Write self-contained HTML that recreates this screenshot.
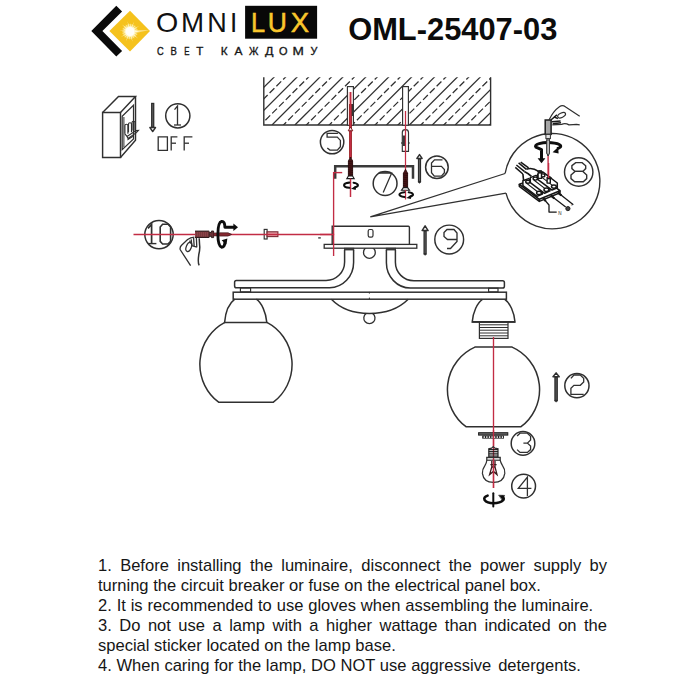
<!DOCTYPE html>
<html><head><meta charset="utf-8">
<style>
html,body{margin:0;padding:0;background:#fff;}
body{width:700px;height:700px;position:relative;overflow:hidden;font-family:"Liberation Sans",sans-serif;color:#111;}
#title{position:absolute;left:348.2px;top:11.3px;font-weight:bold;font-size:30.8px;line-height:34px;letter-spacing:0px;white-space:nowrap;color:#0a0a0a;}
#txt{position:absolute;left:98px;top:555.8px;width:509px;font-size:16.55px;line-height:20.05px;color:#161616;}
#txt div{white-space:nowrap;}
#txt .j{text-align:justify;text-align-last:justify;white-space:normal;}
svg{position:absolute;left:0;top:0;}
</style></head><body>
<div id="txt">
<div class="j">1. Before installing the luminaire, disconnect the power supply by</div>
<div id="l2">turning the circuit breaker or fuse on the electrical panel box.</div>
<div id="l3" style="word-spacing:0.27px">2. It is recommended to use gloves when assembling the luminaire.</div>
<div class="j">3. Do not use a lamp with a higher wattage than indicated on the</div>
<div id="l5">special sticker located on the lamp base.</div>
<div id="l6" style="word-spacing:0.12px">4. When caring for the lamp, DO NOT use aggressive <span style="margin-left:2.3px">detergents.</span></div>
</div>
<svg id="art" width="700" height="700" viewBox="0 0 700 700" fill="none" stroke="#303030" stroke-width="1.2">
<g id="logo" stroke="none" font-family="Liberation Sans, sans-serif"><polygon points="91.3,31 116.3,5.8 122.1,11.4 102.4,31 122.1,50.9 116.3,56.6" fill="#0a0a0a"/><polygon points="109.4,31 130,10.8 150,30.9 130,51.6" fill="#f5c21d"/><circle cx="130.0" cy="31.5" r="7.6" fill="#fde98c" opacity="0.55"/><path d="M134.00,31.38 L140.57,32.35 L133.93,32.26 Z M133.84,32.62 L137.94,34.80 L133.50,33.43 Z M133.31,33.75 L138.05,38.40 L132.73,34.42 Z M132.45,34.66 L134.48,38.84 L131.70,35.12 Z M131.35,35.27 L132.46,41.81 L130.50,35.47 Z M130.12,35.50 L129.31,40.07 L129.24,35.43 Z M128.88,35.34 L125.93,41.29 L128.07,35.00 Z M127.75,34.81 L124.41,38.03 L127.08,34.23 Z M126.84,33.95 L120.95,37.03 L126.38,33.20 Z M126.23,32.85 L121.63,33.50 L126.03,32.00 Z M126.00,31.62 L119.43,30.65 L126.07,30.74 Z M126.16,30.38 L122.06,28.20 L126.50,29.57 Z M126.69,29.25 L121.95,24.60 L127.27,28.58 Z M127.55,28.34 L125.52,24.16 L128.30,27.88 Z M128.65,27.73 L127.54,21.19 L129.50,27.53 Z M129.88,27.50 L130.69,22.93 L130.76,27.57 Z M131.12,27.66 L134.07,21.71 L131.93,28.00 Z M132.25,28.19 L135.59,24.97 L132.92,28.77 Z M133.16,29.05 L139.05,25.97 L133.62,29.80 Z M133.77,30.15 L138.37,29.50 L133.97,31.00 Z" fill="#fffbe6"/><circle cx="130.0" cy="31.5" r="5.6" fill="#fff6c8" opacity="0.8"/><circle cx="130.0" cy="31.5" r="4.5" fill="#fffef8"/><polygon points="134,30.6 149.6,30.6 134,32.2" fill="#fff8d6"/><text transform="translate(156.11,31.92) scale(0.2861,0.2775)" font-size="100" fill="#111">O</text><text transform="translate(180.88,32.00) scale(0.2770,0.2783)" font-size="100" fill="#111">M</text><text transform="translate(207.13,32.00) scale(0.2708,0.2783)" font-size="100" fill="#111">N</text><text transform="translate(230.06,32.00) scale(0.2600,0.2783)" font-size="100" fill="#111">I</text><rect x="245.1" y="5.8" width="72" height="32.9" fill="#080808"/><text transform="translate(251.07,32.00) scale(0.2539,0.2783)" font-size="100" fill="#f8c62c" stroke="#f8c62c" stroke-width="1.88">L</text><text transform="translate(267.71,31.92) scale(0.2649,0.2771)" font-size="100" fill="#f8c62c" stroke="#f8c62c" stroke-width="1.84">U</text><text transform="translate(290.85,32.00) scale(0.2746,0.2783)" font-size="100" fill="#f8c62c" stroke="#f8c62c" stroke-width="1.81">X</text><text transform="translate(156.89,55.30) scale(0.0929,0.1028)" font-size="100" fill="#161616" stroke="#161616" stroke-width="3.27">С</text><text transform="translate(170.49,55.30) scale(0.0953,0.1029)" font-size="100" fill="#161616" stroke="#161616" stroke-width="3.23">В</text><text transform="translate(184.22,55.30) scale(0.0789,0.1029)" font-size="100" fill="#161616" stroke="#161616" stroke-width="3.52">Е</text><text transform="translate(196.22,55.30) scale(0.1158,0.1022)" font-size="100" fill="#161616" stroke="#161616" stroke-width="2.94">Т</text><text transform="translate(220.71,55.30) scale(0.1180,0.1029)" font-size="100" fill="#161616" stroke="#161616" stroke-width="2.90">К</text><text transform="translate(234.45,55.25) scale(0.1194,0.1022)" font-size="100" fill="#161616" stroke="#161616" stroke-width="2.89">А</text><text transform="translate(249.05,55.30) scale(0.1022,0.1029)" font-size="100" fill="#161616" stroke="#161616" stroke-width="3.12">Ж</text><text transform="translate(264.99,55.35) scale(0.1252,0.1036)" font-size="100" fill="#161616" stroke="#161616" stroke-width="2.80">Д</text><text transform="translate(278.96,55.30) scale(0.1095,0.1028)" font-size="100" fill="#161616" stroke="#161616" stroke-width="3.01">О</text><text transform="translate(292.56,55.30) scale(0.1363,0.1029)" font-size="100" fill="#161616" stroke="#161616" stroke-width="2.68">М</text><text transform="translate(310.58,55.20) scale(0.1081,0.1014)" font-size="100" fill="#161616" stroke="#161616" stroke-width="3.05">У</text></g><text x="348.2" y="40.1" font-family="Liberation Sans, sans-serif" font-weight="bold" font-size="30.85" fill="#0c0c0c" stroke="none" style="font-kerning:none">OML-25407-03</text><g id="s1"><polygon points="102.6,112.5 120.5,112.5 120.5,157.4 102.6,157.4" stroke-width="1.45" /><polyline points="102.6,112.5 118.5,96.5 135.5,96.5 120.5,112.5" stroke-width="1.45" /><polyline points="135.5,96.5 135.5,140.2 120.5,157.4" stroke-width="1.45" /><polygon points="122.2,116.2 133.5,105.2 133.5,139.0 122.2,149.6" stroke-width="1.20" /><polyline points="123.9,117.0 123.9,147.4" stroke-width="1.00" /><path d="M124.9,133.8 L124.9,125.6 Q124.9,124.2 126.4,124.2 Q127.9,124.2 127.9,125.6 L127.9,133.8" stroke-width="1.15"/><path d="M128.5,132.2 L128.5,124.1 Q128.5,122.7 130.0,122.7 Q131.5,122.7 131.5,124.1 L131.5,132.2" stroke-width="1.15"/><path d="M132.0,130.6 L132.0,122.6 Q132.0,121.2 133.5,121.2 Q135.0,121.2 135.0,122.6 L135.0,130.6" stroke-width="1.15"/><path d="M124.9,133.8 L127,136.4 L136,130.6 L138.4,130.4 L136.4,132.6 L128,138.4 L127,136.4 M128,138.4 L128,139.6 L133,136.4" stroke-width="1.1"/><line x1="152.7" y1="102.8" x2="152.7" y2="127.6" stroke-width="3.30" stroke="#2c2c2c"/><line x1="152.7" y1="104.0" x2="152.7" y2="126.6" stroke-width="0.80" stroke="#6a6a6a"/><polygon points="152.7,131.5 155.5,127.6 149.9,127.6" stroke-width="1.50" fill="#fff" stroke-linejoin="round"/><circle cx="177.8" cy="115.8" r="12.1" stroke-width="1.50"/><polyline points="174.5,109.6 177.5,106.0 177.5,125.0" stroke-width="1.30" /><line x1="174.0" y1="125.0" x2="181.0" y2="125.0" stroke-width="1.30" /><polygon points="158.2,136.8 167.4,136.8 167.4,150.3 158.2,150.3" stroke-width="1.30" /><polyline points="177.4,136.8 171.2,136.8 171.2,150.6" stroke-width="1.30" /><line x1="171.2" y1="143.2" x2="176.0" y2="143.2" stroke-width="1.30" /><polyline points="192.4,136.8 184.2,136.8 184.2,150.6" stroke-width="1.30" /><line x1="184.2" y1="143.2" x2="189.0" y2="143.2" stroke-width="1.30" /></g><g id="ceil"><clipPath id="cc"><rect x="263.8" y="77.2" width="226.8" height="47.8"/></clipPath><g clip-path="url(#cc)" stroke-width="1.25"><line x1="203.3" y1="125.0" x2="263.3" y2="65.0"/><line x1="212.8" y1="127.0" x2="274.8" y2="65.0" stroke-dasharray="6.8 2.8"/><line x1="226.2" y1="125.0" x2="286.2" y2="65.0"/><line x1="235.7" y1="127.0" x2="297.6" y2="65.0" stroke-dasharray="6.8 2.8"/><line x1="249.1" y1="125.0" x2="309.1" y2="65.0"/><line x1="258.6" y1="127.0" x2="320.6" y2="65.0" stroke-dasharray="6.8 2.8"/><line x1="272.0" y1="125.0" x2="332.0" y2="65.0"/><line x1="281.4" y1="127.0" x2="343.4" y2="65.0" stroke-dasharray="6.8 2.8"/><line x1="294.9" y1="125.0" x2="354.9" y2="65.0"/><line x1="304.3" y1="127.0" x2="366.3" y2="65.0" stroke-dasharray="6.8 2.8"/><line x1="317.8" y1="125.0" x2="377.8" y2="65.0"/><line x1="327.2" y1="127.0" x2="389.2" y2="65.0" stroke-dasharray="6.8 2.8"/><line x1="340.7" y1="125.0" x2="400.7" y2="65.0"/><line x1="350.1" y1="127.0" x2="412.1" y2="65.0" stroke-dasharray="6.8 2.8"/><line x1="363.6" y1="125.0" x2="423.6" y2="65.0"/><line x1="373.0" y1="127.0" x2="435.0" y2="65.0" stroke-dasharray="6.8 2.8"/><line x1="386.5" y1="125.0" x2="446.5" y2="65.0"/><line x1="395.9" y1="127.0" x2="457.9" y2="65.0" stroke-dasharray="6.8 2.8"/><line x1="409.4" y1="125.0" x2="469.4" y2="65.0"/><line x1="418.8" y1="127.0" x2="480.8" y2="65.0" stroke-dasharray="6.8 2.8"/><line x1="432.3" y1="125.0" x2="492.3" y2="65.0"/><line x1="441.7" y1="127.0" x2="503.7" y2="65.0" stroke-dasharray="6.8 2.8"/><line x1="455.2" y1="125.0" x2="515.2" y2="65.0"/><line x1="464.6" y1="127.0" x2="526.6" y2="65.0" stroke-dasharray="6.8 2.8"/><line x1="478.1" y1="125.0" x2="538.1" y2="65.0"/><line x1="487.5" y1="127.0" x2="549.5" y2="65.0" stroke-dasharray="6.8 2.8"/></g><polyline points="263.8,77.2 263.8,125.0 490.6,125.0 490.6,77.2" stroke-width="1.40" /><rect x="347.4" y="86.6" width="6" height="38.6" fill="#fff" stroke-width="1.15"/><rect x="402.6" y="86.6" width="5.8" height="38.6" fill="#fff" stroke-width="1.15"/></g><g id="screws"><path d="M335.2,178.8 L335.2,166.2 L413,166.2 L413,178.8" stroke="#3a3a3a" stroke-width="2.5" stroke-linejoin="miter"/><rect x="348.7" y="92" width="3.4" height="33" fill="#eaa6a6" stroke="none" opacity="0.85"/><line x1="350.5" y1="92.0" x2="350.5" y2="197.0" stroke-width="1.25" stroke="#c22c44"/><line x1="349.5" y1="104.0" x2="349.5" y2="158.0" stroke-width="0.90" stroke="#9a1c20"/><line x1="351.5" y1="104.0" x2="351.5" y2="158.0" stroke-width="0.90" stroke="#9a1c20"/><rect x="351.8" y="104" width="1.7" height="12" fill="#333" stroke="none"/><polygon points="350.5,127.0 352.8,130.8 348.2,130.8" stroke-width="1.00" stroke="#7a1a1e" fill="#f8e2e2"/><path d="M350.5,157.0 L352.6,161.0 L352.6,176.2 L348.4,176.2 L348.4,161.0 Z" fill="#4a1517" stroke="#2a0c0d" stroke-width="0.9"/><line x1="348.0" y1="161.9" x2="353.0" y2="161.0" stroke-width="0.80" stroke="#2a0c0d"/><line x1="348.0" y1="163.8" x2="353.0" y2="162.9" stroke-width="0.80" stroke="#2a0c0d"/><line x1="348.0" y1="165.7" x2="353.0" y2="164.8" stroke-width="0.80" stroke="#2a0c0d"/><line x1="348.0" y1="167.6" x2="353.0" y2="166.7" stroke-width="0.80" stroke="#2a0c0d"/><line x1="348.0" y1="169.5" x2="353.0" y2="168.6" stroke-width="0.80" stroke="#2a0c0d"/><line x1="348.0" y1="171.4" x2="353.0" y2="170.5" stroke-width="0.80" stroke="#2a0c0d"/><line x1="348.0" y1="173.3" x2="353.0" y2="172.4" stroke-width="0.80" stroke="#2a0c0d"/><line x1="348.0" y1="175.2" x2="353.0" y2="174.3" stroke-width="0.80" stroke="#2a0c0d"/><path d="M348.4,176.0 L352.6,176.0 L354.2,178.6 L346.8,178.6 Z" fill="#fff" stroke="#1a1a1a" stroke-width="1.1"/><line x1="350.5" y1="178.6" x2="350.5" y2="197.0" stroke-width="1.25" stroke="#c22c44"/><g stroke="#0d0d0d" fill="none" stroke-linecap="round"><path d="M349.21,182.59 A6.90,2.70 0 0 0 349.21,187.81" stroke-width="2.10"/><path d="M353.58,182.70 A6.90,2.70 0 0 1 354.66,187.49" stroke-width="2.10"/><polygon points="351.06,188.79 356.46,185.59 355.66,189.89" fill="#0d0d0d" stroke="none"/></g><path d="M402.3,151.4 L402.3,132.5 Q402.3,129.6 405.4,129.6 Q408.5,129.6 408.5,132.5 L408.5,151.4 Z" fill="#fff" stroke-width="1.15"/><rect x="402.8" y="135.5" width="2.3" height="10.5" fill="#3a3a3a" stroke="none"/><line x1="401.2" y1="143.0" x2="402.3" y2="143.0" stroke-width="1.50" /><line x1="408.5" y1="143.0" x2="409.6" y2="143.0" stroke-width="1.50" /><line x1="405.5" y1="111.0" x2="405.5" y2="170.0" stroke-width="1.25" stroke="#c22c44"/><path d="M405.5,169.3 L407.6,173.3 L407.6,187.8 L403.4,187.8 L403.4,173.3 Z" fill="#4a1517" stroke="#2a0c0d" stroke-width="0.9"/><line x1="403.0" y1="174.2" x2="408.0" y2="173.3" stroke-width="0.80" stroke="#2a0c0d"/><line x1="403.0" y1="176.1" x2="408.0" y2="175.2" stroke-width="0.80" stroke="#2a0c0d"/><line x1="403.0" y1="178.0" x2="408.0" y2="177.1" stroke-width="0.80" stroke="#2a0c0d"/><line x1="403.0" y1="179.9" x2="408.0" y2="179.0" stroke-width="0.80" stroke="#2a0c0d"/><line x1="403.0" y1="181.8" x2="408.0" y2="180.9" stroke-width="0.80" stroke="#2a0c0d"/><line x1="403.0" y1="183.7" x2="408.0" y2="182.8" stroke-width="0.80" stroke="#2a0c0d"/><line x1="403.0" y1="185.6" x2="408.0" y2="184.7" stroke-width="0.80" stroke="#2a0c0d"/><line x1="403.0" y1="187.5" x2="408.0" y2="186.6" stroke-width="0.80" stroke="#2a0c0d"/><path d="M403.4,187.6 L407.6,187.6 L409.5,190.2 L401.5,190.2 Z" fill="#fff" stroke="#1a1a1a" stroke-width="1.1"/><line x1="405.5" y1="190.0" x2="405.5" y2="199.5" stroke-width="1.25" stroke="#c22c44"/><g stroke="#0d0d0d" fill="none" stroke-linecap="round"><path d="M404.44,192.19 A6.80,2.50 0 0 0 404.44,197.01" stroke-width="2.10"/><path d="M408.75,192.28 A6.80,2.50 0 0 1 409.80,196.72" stroke-width="2.10"/><polygon points="406.20,198.02 411.60,194.82 410.80,199.12" fill="#0d0d0d" stroke="none"/></g><line x1="333.5" y1="172.6" x2="342.2" y2="172.6" stroke-width="1.40" stroke="#c22c44"/><line x1="419.5" y1="158.4" x2="419.5" y2="182.2" stroke-width="3.20" stroke="#2c2c2c"/><line x1="419.5" y1="159.4" x2="419.5" y2="181.0" stroke-width="0.80" stroke="#6a6a6a"/><polygon points="419.5,183.4 421.1,182.0 417.9,182.0" stroke-width="0.30" fill="#2c2c2c"/><polygon points="419.5,154.6 422.1,158.4 416.9,158.4" stroke-width="1.50" fill="#fff" stroke-linejoin="round"/><circle cx="332.1" cy="142.1" r="11.7" stroke-width="1.50"/><polyline points="337.9,133.4 327.1,133.4 327.1,137.1 337.3,137.1 340.4,140.4 340.4,146.7 337.3,150.1 329.9,150.1 327.3,147.9" stroke-width="1.30" /><circle cx="436.9" cy="167.3" r="11.3" stroke-width="1.50"/><polyline points="442.5,159.9 434.5,159.9 431.5,163.1 431.5,172.7 434.3,176.2 441.4,176.2 444.4,172.7 444.4,169.5 441.4,166.3 431.5,166.3" stroke-width="1.30" /><circle cx="385.1" cy="183.5" r="11.9" stroke-width="1.50"/><polyline points="378.4,173.2 391.6,173.2 383.2,192.4" stroke-width="1.30" /><line x1="379.5" y1="172.2" x2="390.5" y2="172.2" stroke-width="1.20" /></g><g id="s8"><path d="M505.1,173.5 A47.7,47.7 0 1 1 506.0,193.1" stroke-width="1.4"/><path d="M505.1,173.5 L370.3,216.9 L506.0,193.1" stroke-width="1.3" stroke-linejoin="miter"/><circle cx="578.7" cy="172.0" r="14.2" stroke-width="1.45"/><polygon points="575.7,162.6 582.1,162.6 585.7,165.7 585.7,168.6 582.9,171.4 575.0,171.4 571.9,168.6 571.9,165.7" stroke-width="1.40" /><polygon points="575.0,171.4 582.9,171.4 586.7,175.0 586.7,178.6 583.3,181.7 574.7,181.7 571.0,178.6 571.0,175.0" stroke-width="1.40" /><rect x="545.2" y="120" width="5.9" height="14.4" fill="#a6a6a6" stroke="#1d1d1d" stroke-width="1.5"/><rect x="545.9" y="134.4" width="4.5" height="4.2" fill="#e4e4e4" stroke-width="1.0"/><path d="M546.8,138.6 L546.8,153 L548.1,156 L549.4,153 L549.4,138.6 Z" fill="#cfcfcf" stroke-width="0.95"/><line x1="548.1" y1="156.0" x2="548.1" y2="178.0" stroke-width="1.35" stroke="#c22c44"/><path d="M549.0,120.0 Q553.2,111.1 559.7,106.5 Q562.5,104.6 565.7,107.0 L579.7,116.2" stroke-width="1.2"/><path d="M552.3,124.9 L561.6,124.3 Q565.3,122.7 569.0,124.9 Q573.6,124.3 576.4,124.3 L579.7,124.9" stroke-width="1.35"/><ellipse cx="561.6" cy="115.2" rx="4.2" ry="2.2" transform="rotate(-26 561.6 115.2)" stroke-width="1.2"/><path d="M550.9,120.0 L556.9,114.9 M551.8,121.8 L560.6,120.9 M552.7,123.7 L561.1,122.7 M553.7,116.7 L557.9,118.6" stroke-width="1.5" stroke="#1a1a1a"/><g stroke="#0d0d0d" fill="none" stroke-linecap="butt"><path d="M557.01,148.75 A12.6,3.6 0 1 0 535.93,147.13 L541.5,149.6 L541.5,159" stroke-width="3" stroke-linejoin="round"/><polygon points="541.5,163.3 537.6,158.3 545.4,158.3" fill="#0d0d0d" stroke="none"/><polygon points="552.6,152.2 558.2,147.0 558.6,153.4" fill="#0d0d0d" stroke="none"/></g><path d="M546.8,140 L546.8,153 L548.1,156 L549.4,153 L549.4,140 Z" fill="#cfcfcf" stroke-width="0.95"/><g stroke="#161616" stroke-linejoin="round"><polygon points="519.3,184.3 539.3,199.3 560.0,190.7 541.4,177.1" stroke-width="1.60" fill="#fff"/><polyline points="519.3,184.3 519.3,186.3 539.3,201.4 539.3,199.3" stroke-width="1.50" /><polyline points="539.3,201.4 560.0,192.7 560.0,190.7" stroke-width="1.50" /><polygon points="522.9,180.7 522.9,185.7 537.1,196.4 542.4,194.0 542.4,189.3 528.6,178.6" stroke-width="1.50" fill="#fff"/><ellipse cx="527.9" cy="181.7" rx="2.2" ry="1.5" fill="#fff" stroke-width="1.4"/><ellipse cx="539.0" cy="192.9" rx="2.4" ry="1.7" fill="#fff" stroke-width="1.5"/><line x1="526.4" y1="183.1" x2="537.6" y2="191.7" stroke-width="1.10" /><polygon points="530.3,177.6 530.3,182.6 544.6,193.3 549.9,190.9 549.9,186.1 536.0,175.4" stroke-width="1.50" fill="#fff"/><ellipse cx="535.3" cy="178.6" rx="2.2" ry="1.5" fill="#fff" stroke-width="1.4"/><ellipse cx="546.4" cy="189.7" rx="2.4" ry="1.7" fill="#fff" stroke-width="1.5"/><line x1="533.9" y1="180.0" x2="545.0" y2="188.6" stroke-width="1.10" /><polygon points="537.7,174.4 537.7,179.4 552.0,190.1 557.3,187.7 557.3,183.0 543.4,172.3" stroke-width="1.50" fill="#fff"/><ellipse cx="542.7" cy="175.4" rx="2.2" ry="1.5" fill="#fff" stroke-width="1.4"/><ellipse cx="553.9" cy="186.6" rx="2.4" ry="1.7" fill="#fff" stroke-width="1.5"/><line x1="541.3" y1="176.9" x2="552.4" y2="185.4" stroke-width="1.10" /><rect x="538.1" y="172.9" width="3.4" height="5.5" fill="#fff" stroke-width="1.4"/><ellipse cx="540.1" cy="171.7" rx="2.4" ry="1.1" fill="#222" stroke-width="1"/><rect x="547.1" y="178.6" width="3.2" height="4.5" fill="#fff" stroke-width="1.4"/><ellipse cx="549.0" cy="177.7" rx="2.2" ry="1.0" fill="#222" stroke-width="1"/><path d="M518.6,162.9 L526.4,169.3 M516.4,165.0 L524.3,171.4 M515.3,167.4 L522.9,174.0 M520.7,162.1 L528.6,167.9" stroke-width="1.5"/><path d="M526.4,169.3 Q532.1,167.1 538.6,171.4 M524.3,171.4 Q527.9,172.9 531.4,176.4 M522.9,174.0 L523.6,180.7" stroke-width="1.6"/><path d="M543.3,198.3 L549.0,205.0 L549.0,212.1 L556.7,212.1" stroke-width="1.3"/><path d="M550.7,195.4 L565.7,207.1" stroke-width="1.3"/><path d="M557.9,192.6 L573.3,204.7" stroke-width="1.3"/><path d="M543.3,198.3 L545.7,201.1 M550.7,195.4 L554.3,198.3 M557.9,192.6 L561.4,195.4" stroke-width="2.2"/><circle cx="567.9" cy="208.6" r="2.1" fill="#444" stroke-width="0.9"/></g><line x1="548.6" y1="163.0" x2="548.6" y2="178.0" stroke-width="1.35" stroke="#c22c44"/><text x="558.3" y="214.8" font-family="Liberation Sans, sans-serif" font-size="4.6" fill="#222" stroke="none">N</text><text x="571.5" y="205.5" font-family="Liberation Sans, sans-serif" font-size="3.6" fill="#222" stroke="none" transform="rotate(35 572 204)">L</text></g><g id="s10"><circle cx="159.0" cy="234.6" r="14.2" stroke-width="1.50"/><polyline points="148.0,228.4 151.6,224.2 151.6,243.4" stroke-width="1.70" /><line x1="148.0" y1="243.6" x2="156.4" y2="243.6" stroke-width="1.40" /><polygon points="162.6,224.3 168.0,224.3 170.6,227.0 170.6,241.4 168.0,244.0 162.6,244.0 160.2,241.4 160.2,227.0" stroke-width="1.60" /><rect x="264.2" y="229.4" width="2.9" height="9.6" fill="#fff" stroke-width="1.15"/><rect x="267.1" y="231.8" width="10.8" height="4.8" fill="#e59aa2" stroke="#7a2a34" stroke-width="1.1"/><path d="M190.6,265.6 L180.3,249.8 Q179.4,247.2 181.8,245 L187.6,239.6 Q190.5,237.4 194.4,237.2" stroke-width="1.3"/><path d="M199.2,265.4 Q197.6,263 198.8,254.5 Q200.2,249 199.6,245 L199.2,238.2" stroke-width="1.5"/><ellipse cx="188.8" cy="247" rx="2.5" ry="4.7" transform="rotate(22 188.8 247)" stroke-width="1.25"/><path d="M191.2,239.4 L191.8,245.6 M193.6,238 L194.2,246.6 M196.4,238 L196.8,247.4 M191.6,245.6 L197,247.2 M189.6,240.6 L190.6,243.4" stroke-width="1.3"/><line x1="133.5" y1="234.5" x2="334.0" y2="234.5" stroke-width="1.40" stroke="#c22c44"/><rect x="195" y="231.2" width="14.2" height="6.2" fill="#93474c" stroke="none"/><line x1="195.0" y1="231.2" x2="209.2" y2="231.2" stroke-width="1.20" stroke="#2a1a1a"/><line x1="195.0" y1="237.4" x2="209.2" y2="237.4" stroke-width="1.20" stroke="#2a1a1a"/><line x1="196.3" y1="231.2" x2="196.3" y2="237.4" stroke-width="0.60" stroke="#5a2a2e"/><line x1="198.3" y1="231.2" x2="198.3" y2="237.4" stroke-width="0.60" stroke="#5a2a2e"/><line x1="200.3" y1="231.2" x2="200.3" y2="237.4" stroke-width="0.60" stroke="#5a2a2e"/><line x1="202.3" y1="231.2" x2="202.3" y2="237.4" stroke-width="0.60" stroke="#5a2a2e"/><line x1="204.3" y1="231.2" x2="204.3" y2="237.4" stroke-width="0.60" stroke="#5a2a2e"/><line x1="206.3" y1="231.2" x2="206.3" y2="237.4" stroke-width="0.60" stroke="#5a2a2e"/><line x1="208.3" y1="231.2" x2="208.3" y2="237.4" stroke-width="0.60" stroke="#5a2a2e"/><path d="M209.2,232 L211.4,232.8 L211.4,231 L213.6,231 L213.6,237.6 L211.4,237.6 L211.4,236 L209.2,236.8 Z" fill="#6a3034" stroke="#2a1a1a" stroke-width="0.9"/><path d="M213.6,232.9 L228,232.9 L231.5,234.4 L228,235.9 L213.6,235.9 Z" fill="#862830" stroke="#4a1a1e" stroke-width="0.6"/><g stroke="#0d0d0d" fill="none" stroke-linejoin="round"><path d="M224.9,240.4 Q225.2,247.4 221.6,247.2 Q217.9,245.8 217.9,234.2 Q217.9,222.4 221.6,221.4 Q224.9,221 224.9,227.3 L234.5,227.3" stroke-width="2.9"/><polygon points="238,227.3 233.4,223.6 233.4,231" fill="#0d0d0d" stroke="none"/><polygon points="227.4,238.6 221.6,240.2 226.4,244.6" fill="#0d0d0d" stroke="none"/></g><path d="M219.5,232.9 L228,232.9 L231.5,234.4 L228,235.9 L219.5,235.9 Z" fill="#862830" stroke="#4a1a1e" stroke-width="0.6"/></g><g id="fix"><circle cx="369.4" cy="252.4" r="5.9" stroke-width="1.30"/><path d="M332.2,244.2 L332.2,226.2 L408.4,226.2 Q409.4,226.2 409.4,227.4 L409.4,244.2" fill="#fff" stroke-width="1.4"/><rect x="324.2" y="244.4" width="92.6" height="3.8" fill="#fff" stroke-width="1.3"/><rect x="368.2" y="229.5" width="4.8" height="7.6" rx="1.6" stroke-width="1.2"/><line x1="318.2" y1="237.9" x2="320.8" y2="237.9" stroke-width="1.30" /><rect x="344.4" y="248.2" width="9.4" height="1.8" fill="#444" stroke-width="0.8"/><rect x="386.2" y="248.2" width="9.4" height="1.8" fill="#444" stroke-width="0.8"/><path d="M344.6,250 L344.6,262 A18.5,18.5 0 0 1 326.1,280.5 L236.4,280.5 Q234.6,280.5 234.6,282.3 L234.6,285.9 Q234.6,287.7 236.4,287.7 L329.6,287.7 A24,25.2 0 0 0 353.6,262.5 L353.6,250" stroke-width="1.50"/><path d="M395.4,250 L395.4,262.3 A18.5,18.5 0 0 0 413.9,280.8 L502.6,280.8 Q504.4,280.8 504.4,282.6 L504.4,286.2 Q504.4,288 502.6,288 L410.4,288 A24,25.2 0 0 1 386.4,262.8 L386.4,250" stroke-width="1.50"/><rect x="233.2" y="292.2" width="273.2" height="7.0" stroke-width="1.50"/><line x1="369.4" y1="291.9" x2="369.4" y2="293.6" stroke-width="1.00" /><line x1="369.4" y1="297.6" x2="369.4" y2="299.2" stroke-width="1.00" /><rect x="240.4" y="288" width="10.2" height="3.9" stroke-width="1.15"/><rect x="488.6" y="288.2" width="9.4" height="3.7" stroke-width="1.15"/><path d="M331.4,299.2 Q345,313.4 369.4,313.4 Q394,313.4 408.2,299.2" stroke-width="1.50"/><path d="M366.2,313.4 A5.6,5.6 0 1 0 372.6,313.4" stroke-width="1.3"/><path d="M234.8,299.2 C229.6,303 225.5,312 224.6,322.4 L266.8,322.4 C265.9,312 261.6,303 256.4,299.2" stroke-width="1.50"/><path d="M224.9,322.4 A46.1,47.1 0 0 0 218.6,402.2 L273.4,402.2 A46.1,47.1 0 0 0 266.9,322.4" stroke-width="1.50"/><path d="M482.4,299.4 C477.2,303 473.1,312 472.2,322 L515,322 C514.1,312 510,303 504.8,299.4" stroke-width="1.50"/><line x1="472.2" y1="321.9" x2="515.0" y2="321.9" stroke-width="1.90" /><rect x="479.4" y="322" width="28.6" height="16.4" stroke-width="1.2"/><line x1="479.4" y1="324.8" x2="508.0" y2="324.8" stroke-width="1.00" /><line x1="479.4" y1="327.5" x2="508.0" y2="327.5" stroke-width="1.00" /><line x1="479.4" y1="330.2" x2="508.0" y2="330.2" stroke-width="1.00" /><line x1="479.4" y1="333.0" x2="508.0" y2="333.0" stroke-width="1.00" /><line x1="479.4" y1="335.8" x2="508.0" y2="335.8" stroke-width="1.00" /><path d="M474.9,347.1 A46.2,46.4 0 0 0 466,426.7 L521,426.7 A46.2,46.4 0 0 0 512.1,347.1 Z" stroke-width="1.50"/><line x1="493.5" y1="337.0" x2="493.5" y2="488.0" stroke-width="1.35" stroke="#c22c44"/><line x1="425.1" y1="230.6" x2="425.1" y2="254.2" stroke-width="3.30" stroke="#2c2c2c"/><line x1="425.1" y1="231.6" x2="425.1" y2="253.0" stroke-width="0.80" stroke="#6a6a6a"/><polygon points="425.1,255.4 426.8,254.0 423.5,254.0" stroke-width="0.30" fill="#2c2c2c"/><polygon points="425.1,225.9 428.1,230.6 422.1,230.6" stroke-width="1.50" fill="#fff" stroke-linejoin="round"/><circle cx="449.2" cy="239.5" r="14.4" stroke-width="1.45"/><polyline points="457.0,239.5 447.5,239.5 444.0,236.5 444.0,232.5 447.0,229.5 454.0,229.5 457.0,233.0 457.0,241.5 450.5,248.5 447.0,248.5" stroke-width="1.35" /><line x1="556.1" y1="376.8" x2="556.1" y2="401.0" stroke-width="3.60" stroke="#2c2c2c"/><line x1="556.1" y1="377.8" x2="556.1" y2="399.8" stroke-width="0.80" stroke="#6a6a6a"/><polygon points="556.1,402.2 557.9,400.8 554.3,400.8" stroke-width="0.30" fill="#2c2c2c"/><polygon points="556.1,372.9 559.2,376.8 553.0,376.8" stroke-width="1.50" fill="#fff" stroke-linejoin="round"/><circle cx="576.9" cy="385.7" r="12.1" stroke-width="1.50"/><polyline points="570.9,378.4 573.9,375.0 580.3,375.0 583.7,378.4 583.7,381.9 580.3,385.3 573.9,385.3 570.9,388.3 570.9,394.3 583.7,394.3" stroke-width="1.30" /><rect x="478.6" y="432.7" width="29.2" height="2.4" fill="#666" stroke="#1d1d1d" stroke-width="1.0"/><rect x="482.2" y="435.6" width="21.8" height="3" fill="#1d1d1d" stroke="none"/><rect x="483.6" y="436.3" width="1.3" height="1.6" fill="#fff" stroke="none"/><rect x="486.2" y="436.3" width="1.3" height="1.6" fill="#fff" stroke="none"/><rect x="488.8" y="436.3" width="1.3" height="1.6" fill="#fff" stroke="none"/><rect x="491.4" y="436.3" width="1.3" height="1.6" fill="#fff" stroke="none"/><rect x="494.0" y="436.3" width="1.3" height="1.6" fill="#fff" stroke="none"/><rect x="496.6" y="436.3" width="1.3" height="1.6" fill="#fff" stroke="none"/><rect x="499.2" y="436.3" width="1.3" height="1.6" fill="#fff" stroke="none"/><rect x="501.8" y="436.3" width="1.3" height="1.6" fill="#fff" stroke="none"/><line x1="493.5" y1="430.0" x2="493.5" y2="446.0" stroke-width="1.35" stroke="#c22c44"/><circle cx="523.0" cy="443.4" r="11.8" stroke-width="1.50"/><polyline points="517.1,435.9 520.0,433.2 527.4,433.2 530.6,436.4 530.6,439.9 527.4,443.1 523.4,443.1" stroke-width="1.30" /><polyline points="527.4,443.1 530.6,446.1 530.6,449.6 527.4,452.4 520.0,452.4 517.1,449.6" stroke-width="1.30" /><path d="M493.3,446.6 L495,448.2 L498,448.8 L498,457.2 L500.2,457.4 L500.2,460.2 Q500.6,462.6 502.4,465.4 Q505.2,469.4 504.8,473.4 Q503.6,482.4 493.6,482.4 Q483.6,482.4 482.4,473.4 Q482.2,469.4 485,465.4 Q486.6,462.6 486.8,460.2 L486.8,457.4 L488.8,457.2 L488.8,448.8 L491.6,448.2 Z" stroke-width="1.25"/><line x1="488.8" y1="449.6" x2="498.0" y2="449.6" stroke-width="1.10" stroke="#1d1d1d"/><line x1="488.8" y1="451.4" x2="498.0" y2="451.4" stroke-width="1.10" stroke="#1d1d1d"/><line x1="488.8" y1="453.2" x2="498.0" y2="453.2" stroke-width="1.10" stroke="#1d1d1d"/><line x1="488.8" y1="455.0" x2="498.0" y2="455.0" stroke-width="1.10" stroke="#1d1d1d"/><line x1="488.8" y1="456.8" x2="498.0" y2="456.8" stroke-width="1.10" stroke="#1d1d1d"/><line x1="486.8" y1="457.6" x2="500.2" y2="457.6" stroke-width="1.20" /><line x1="486.8" y1="460.2" x2="500.2" y2="460.2" stroke-width="1.20" /><path d="M491.8,461 L491.8,467 L489.6,474.6 L493.4,471.4 L497,474.6 L495,467 L495,461 M490.4,464.6 L496.6,464.6 M491.8,467 L495,467" stroke="#3a1c1e" stroke-width="1.3"/><line x1="493.5" y1="459.0" x2="493.5" y2="488.0" stroke-width="1.35" stroke="#c22c44"/><circle cx="523.6" cy="486.1" r="11.9" stroke-width="1.50"/><polyline points="531.4,488.4 518.3,488.4 527.4,477.0 527.4,495.9" stroke-width="1.30" /><g stroke="#0d0d0d" fill="none" stroke-linecap="round"><path d="M487.6,495.6 Q483.2,497.2 484.6,500 Q487,503.2 493.4,503.2 Q500.4,503.2 503.2,500.2 Q504.6,498.2 502.4,496.8" stroke-width="2.6"/><line x1="493.3" y1="493.2" x2="493.3" y2="506.4" stroke-width="2.00" /><polygon points="499,495.2 504.6,495.4 502.2,499.6" fill="#0d0d0d" stroke-width="0.6"/></g></g><line x1="333.6" y1="172.0" x2="333.6" y2="256.0" stroke-width="1.35" stroke="#c22c44"/><line x1="320.0" y1="234.5" x2="334.2" y2="234.5" stroke-width="1.40" stroke="#c22c44"/>
</svg>
</body></html>
